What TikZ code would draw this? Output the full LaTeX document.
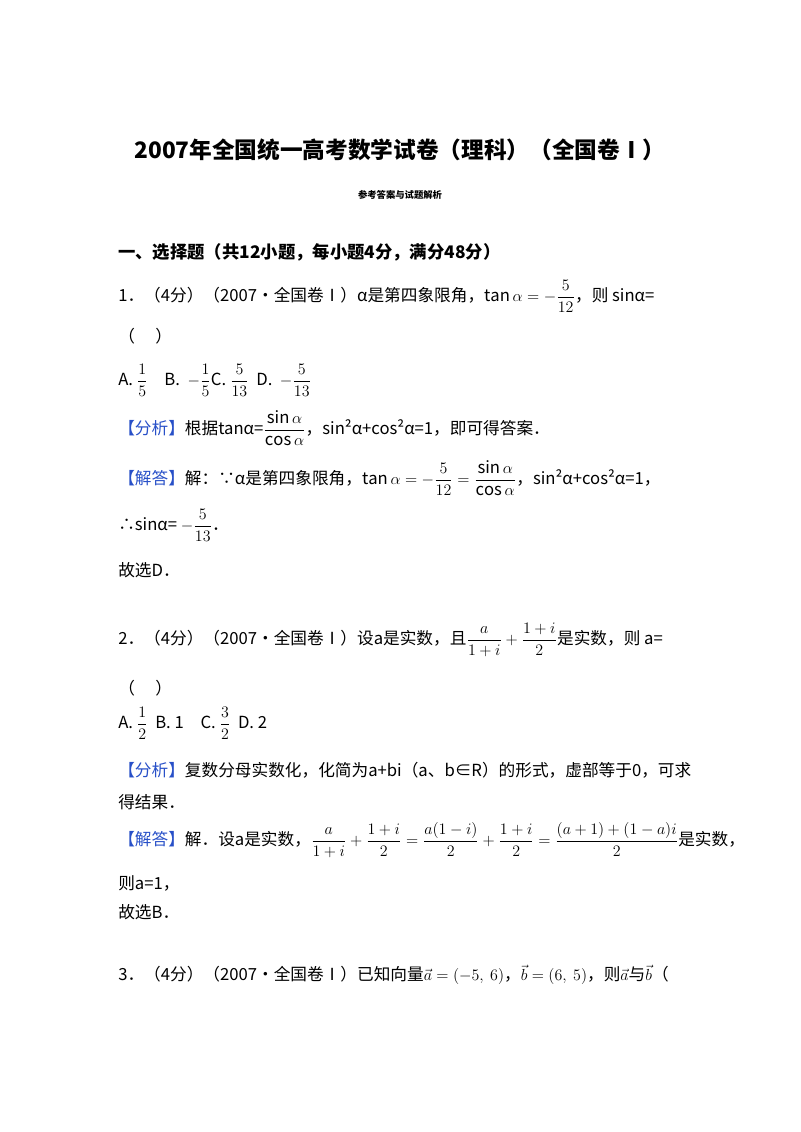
\documentclass[tikz,border=0pt]{standalone}
\usepackage{amsmath}
\usepackage{fontspec}
\setmainfont{Noto Sans CJK SC}
\definecolor{fx}{RGB}{40,80,200}
\begin{document}
\begin{tikzpicture}[x=0.75pt,y=-0.75pt,
 txt/.style={anchor=west,inner sep=0pt,font=\fontsize{12.5}{15}\selectfont}]
\useasboundingbox[fill=white] (0,0) rectangle (800,1132);
\node[inner sep=0pt,font=\fontsize{17}{20}\selectfont\bfseries] (title) at (400,150) {2007年全国统一高考数学试卷（理科）（全国卷Ⅰ）};
\node[inner sep=0pt,font=\fontsize{7}{9}\selectfont\bfseries] (sub) at (400,195) {参考答案与试题解析};
\node[txt,font=\fontsize{13}{15}\selectfont\bfseries] (sec) at (118,252) {一、选择题（共12小题，每小题4分，满分48分）};
\node[txt] (q1) at (118,296) {1．（4分）（2007•全国卷Ⅰ）α是第四象限角，$\tan\alpha=-\dfrac{5}{12}$，则 sinα=};
\node[txt] (q1b) at (118,336) {（\quad\ ）};
\node[txt] (q1o) at (118,380) {A. $\dfrac15$\quad B.\ \ $-\dfrac15$C.\ $\dfrac{5}{13}$\ \ D.\ \ $-\dfrac{5}{13}$};
\node[txt] (a1) at (118,428) {\textcolor{fx}{【分析】}根据tanα=$\dfrac{\sin\alpha}{\cos\alpha}$，sin²α+cos²α=1，即可得答案．};
\node[txt] (s1) at (118,478) {\textcolor{fx}{【解答】}解：∵α是第四象限角，$\tan\alpha=-\dfrac{5}{12}=\dfrac{\sin\alpha}{\cos\alpha}$，sin²α+cos²α=1，};
\node[txt] (s1b) at (118,525) {∴sinα=\ $-\dfrac{5}{13}$．};
\node[txt] (s1c) at (118,570) {故选D．};
\node[txt] (q2) at (118,640) {2．（4分）（2007•全国卷Ⅰ）设a是实数，且$\dfrac{a}{1+i}+\dfrac{1+i}{2}$是实数，则 a=};
\node[txt] (q2b) at (118,688) {（\quad\ ）};
\node[txt] (q2o) at (118,723) {A. $\dfrac12$\ \ B. 1\quad C. $\dfrac32$\ \ D. 2};
\node[txt] (a2) at (118,770) {\textcolor{fx}{【分析】}复数分母实数化，化简为a+bi（a、b∈R）的形式，虚部等于0，可求};
\node[txt] (a2b) at (118,802) {得结果．};
\node[txt] (s2) at (118,840) {\textcolor{fx}{【解答】}解．设a是实数，$\dfrac{a}{1+i}+\dfrac{1+i}{2}=\dfrac{a(1-i)}{2}+\dfrac{1+i}{2}=\dfrac{(a+1)+(1-a)i}{2}$是实数，};
\node[txt] (s2b) at (118,883) {则a=1，};
\node[txt] (s2c) at (118,912) {故选B．};
\node[txt] (q3) at (118,975) {3．（4分）（2007•全国卷Ⅰ）已知向量$\vec a=(-5,\ 6)$，$\vec b=(6,\ 5)$，则$\vec a$与$\vec b$（};
\end{tikzpicture}
\end{document}
